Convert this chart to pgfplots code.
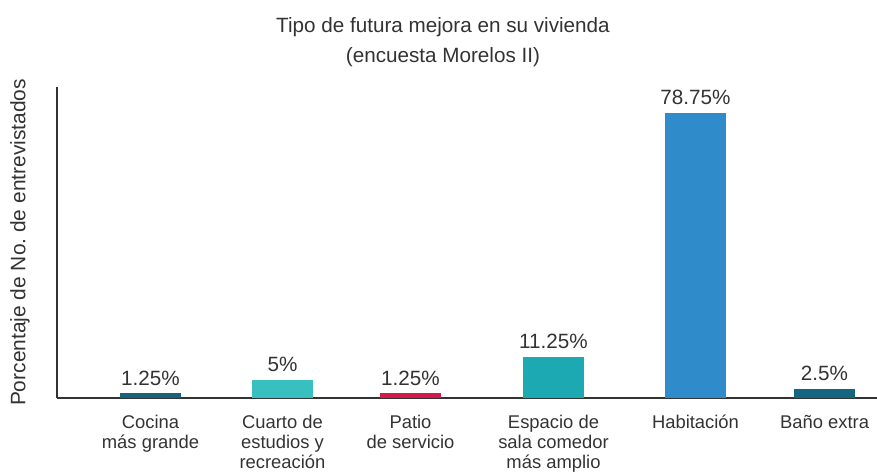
\documentclass[border=0pt]{standalone}
\usepackage{fontspec}
\setmainfont{Liberation Sans}
\usepackage{pgfplots}
\pgfplotsset{compat=1.18}

\definecolor{txt}{HTML}{333333}
\definecolor{c1}{HTML}{17637C}
\definecolor{c2}{HTML}{38C0C0}
\definecolor{c3}{HTML}{D41A4A}
\definecolor{c4}{HTML}{1CA9B2}
\definecolor{c5}{HTML}{308BCB}
\definecolor{c6}{HTML}{146680}

\begin{document}
\begin{tikzpicture}
\useasboundingbox (-42.75pt,-56.25pt) rectangle (615pt,298.5pt);
\begin{axis}[
    scale only axis,
    width=615pt, height=233.25pt,
    xmin=57, xmax=877, ymin=0, ymax=85.9,
    enlargelimits=false,
    clip=false,
    axis x line*=bottom, axis y line*=left,
    axis line style={-, draw=txt, line width=1.1pt},
    ytick=\empty,
    xtick={150.5,282.5,410.5,553.5,695.5,824.5},
    xticklabels={{Cocina\\más grande},{Cuarto de\\estudios y\\recreación},{Patio\\de servicio},{Espacio de\\sala comedor\\más amplio},{Habitación},{Baño extra}},
    major tick length=0pt,
    xticklabel style={anchor=north, inner sep=0pt, yshift=-12.5pt, align=center,
        font=\fontsize{13.8}{15}\selectfont, text=txt},
    ylabel={Porcentaje de No.\ de entrevistados},
    ylabel style={at={(axis description cs:0,0.5)}, anchor=center, yshift=27.75pt,
        font=\fontsize{15.7}{18}\selectfont, text=txt},
    nodes near coords={\pgfmathprintnumber[assume math mode=true]{\pgfplotspointmeta}\%},
    nodes near coords style={font=\fontsize{15.5}{18}\selectfont, text=txt, inner sep=0pt, yshift=6pt},
]
\addplot[ybar, bar shift=0pt, bar width=61, draw=none, fill=c1] coordinates {(150.5,1.25)};
\addplot[ybar, bar shift=0pt, bar width=61, draw=none, fill=c2] coordinates {(282.5,5)};
\addplot[ybar, bar shift=0pt, bar width=61, draw=none, fill=c3] coordinates {(410.5,1.25)};
\addplot[ybar, bar shift=0pt, bar width=61, draw=none, fill=c4] coordinates {(553.5,11.25)};
\addplot[ybar, bar shift=0pt, bar width=61, draw=none, fill=c5] coordinates {(695.5,78.75)};
\addplot[ybar, bar shift=0pt, bar width=61, draw=none, fill=c6] coordinates {(824.5,2.5)};
\node[anchor=base, text=txt, font=\fontsize{15.5}{18}\selectfont] at ([yshift=41pt]rel axis cs:0.4707,1) {Tipo de futura mejora en su vivienda};
\node[anchor=base, text=txt, font=\fontsize{15.5}{18}\selectfont] at ([yshift=18pt]rel axis cs:0.4707,1) {(encuesta Morelos II)};
\end{axis}
\end{tikzpicture}
\end{document}
